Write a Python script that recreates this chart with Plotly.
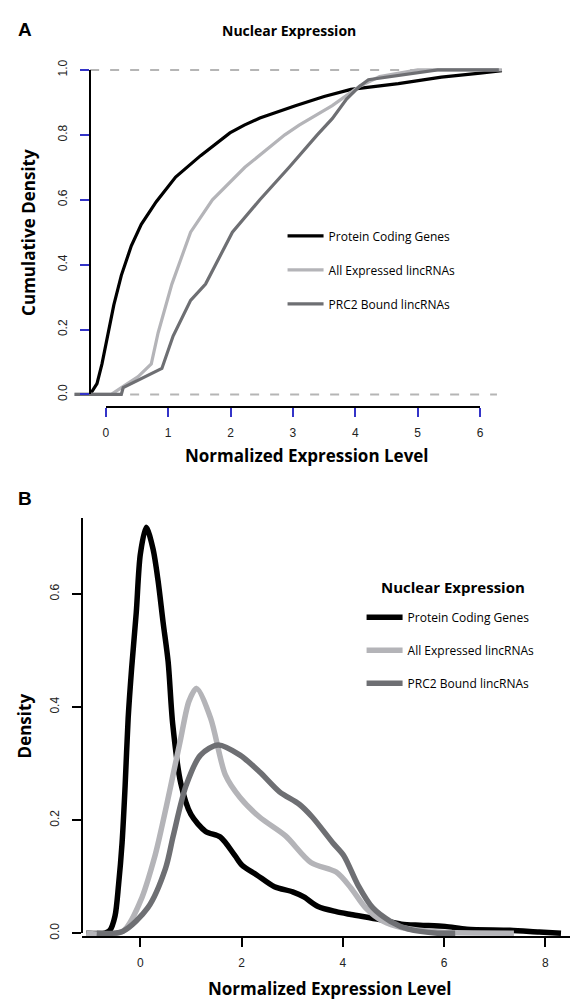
import plotly.graph_objects as go

# ---------------- DATA ----------------
series_names = ["Protein Coding Genes", "All Expressed lincRNAs", "PRC2 Bound lincRNAs"]
series_colors = ["#000000", "#b4b4b8", "#6e6f73"]

# Panel A: empirical cumulative distributions
pc_cdf_x = [-0.25, -0.14, -0.06, 0.0, 0.05, 0.13, 0.25, 0.41, 0.57, 0.81, 1.12, 1.52, 1.99, 2.22, 2.47,
            3.04, 3.5, 3.93, 4.69, 5.38, 6.0, 6.35]
pc_cdf_y = [0.0, 0.033, 0.094, 0.155, 0.2, 0.276, 0.367, 0.458, 0.524, 0.594, 0.67, 0.736, 0.806, 0.83, 0.852,
            0.89, 0.918, 0.94, 0.958, 0.978, 0.99, 0.998]

all_cdf_x = [-0.5, 0.09, 0.30, 0.52, 0.73, 0.84, 1.06, 1.17, 1.36, 1.71, 2.23, 2.87, 3.10, 3.63, 4.07, 4.39, 5.0, 6.35]
all_cdf_y = [0.0, 0.0, 0.027, 0.055, 0.094, 0.19, 0.34, 0.4, 0.5, 0.6, 0.7, 0.8, 0.83, 0.89, 0.95, 0.98, 1.0, 1.0]

prc2_cdf_x = [-0.5, 0.25, 0.28, 0.57, 0.73, 0.90, 1.08, 1.36, 1.60, 1.76, 2.03, 2.47, 2.94, 3.39, 3.63, 3.86,
              4.07, 4.21, 5.32, 6.3]
prc2_cdf_y = [0.0, 0.0, 0.021, 0.048, 0.064, 0.08, 0.18, 0.29, 0.34, 0.4, 0.5, 0.6, 0.7, 0.8, 0.85, 0.91,
              0.95, 0.97, 1.0, 1.0]

ref_levels = [0.0, 1.0]
ref_x_extent = [-0.25, 6.27]

# Panel B: density estimates
pc_den_x = [-1.07, -0.70, -0.6, -0.5, -0.43, -0.36, -0.3, -0.24, -0.17, -0.08, 0.0, 0.117, 0.25, 0.35, 0.45,
            0.55, 0.64, 0.8, 1.0, 1.29, 1.58, 1.87, 2.01, 2.30, 2.65, 3.01, 3.23, 3.51, 3.87, 4.16, 4.73,
            5.16, 5.52, 6.02, 6.45, 7.3, 7.88, 8.31]
pc_den_y = [0.0, 0.0, 0.005, 0.03, 0.085, 0.16, 0.26, 0.38, 0.47, 0.567, 0.67, 0.718, 0.68, 0.624, 0.55,
            0.48, 0.37, 0.265, 0.21, 0.18, 0.17, 0.137, 0.12, 0.103, 0.082, 0.073, 0.064, 0.047, 0.038, 0.033,
            0.024, 0.016, 0.014, 0.012, 0.007, 0.005, 0.002, 0.0]

all_den_x = [-1.07, -0.35, 0.0, 0.29, 0.43, 0.6, 0.8, 0.96, 1.11, 1.39, 1.68, 1.97, 2.36, 2.87, 3.37, 3.87,
             4.16, 4.45, 4.8, 5.16, 5.87, 7.38]
all_den_y = [0.0, 0.003, 0.056, 0.137, 0.19, 0.26, 0.345, 0.41, 0.433, 0.38, 0.28, 0.24, 0.205, 0.172,
             0.125, 0.108, 0.08, 0.045, 0.021, 0.01, 0.002, 0.0]

prc2_den_x = [-0.86, -0.35, 0.15, 0.5, 0.65, 0.9, 1.19, 1.54, 1.97, 2.36, 2.75, 3.14, 3.4, 3.8, 4.02, 4.3,
              4.59, 4.94, 5.3, 5.87, 6.22]
prc2_den_y = [0.0, 0.003, 0.045, 0.115, 0.172, 0.26, 0.315, 0.333, 0.315, 0.285, 0.25, 0.228, 0.205, 0.16,
              0.137, 0.085, 0.045, 0.021, 0.007, 0.0, 0.0]

cdf_ticks = [0, 1, 2, 3, 4, 5, 6]
cdf_yticks = [0.0, 0.2, 0.4, 0.6, 0.8, 1.0]
cdf_yticklabels = ["0.0", "0.2", "0.4", "0.6", "0.8", "1.0"]
den_ticks = [0, 2, 4, 6, 8]
den_yticks = [0.0, 0.2, 0.4, 0.6]
den_yticklabels = ["0.0", "0.2", "0.4", "0.6"]

# ---------------- LAYOUT HELPERS ----------------
W, H = 574, 1007


def fx(px):
    return px / W


def fy(py):
    return 1 - py / H


BLUE = "#3434c8"
TICKFONT = dict(family="Liberation Sans, Arial", size=12, color="#222222")
LBL = "Open Sans, Noto Sans, sans-serif"

fig = go.Figure()

# Panel A geometry: x: 0->104px, 6->483px ; y: 0->391px, 1->61px
ax_x0, ax_sx = 104, (483 - 104) / 6.0
ay_y0, ay_sy = 391, 330.0
# Panel B geometry: x: 0->139px, 8->549px ; y: 0->939px, per unit 575px
bx_x0, bx_sx = 139, (549 - 139) / 8.0
by_y0, by_sy = 939, 575.0

# reference dashed lines (panel A)
for lvl in ref_levels:
    fig.add_trace(go.Scatter(x=ref_x_extent, y=[lvl, lvl], mode="lines", xaxis="x", yaxis="y",
                             line=dict(color="#b5b5b5", width=2, dash="9px,11px"),
                             showlegend=False, hoverinfo="skip"))

cdf_data = [(pc_cdf_x, pc_cdf_y), (all_cdf_x, all_cdf_y), (prc2_cdf_x, prc2_cdf_y)]
for i, (xs, ys) in enumerate(cdf_data):
    fig.add_trace(go.Scatter(x=xs, y=ys, mode="lines", name=series_names[i], xaxis="x", yaxis="y",
                             line=dict(color=series_colors[i], width=3.2), legend="legend",
                             legendgroup="a%d" % i))

den_data = [(pc_den_x, pc_den_y), (all_den_x, all_den_y), (prc2_den_x, prc2_den_y)]
for i, (xs, ys) in enumerate(den_data):
    fig.add_trace(go.Scatter(x=xs, y=ys, mode="lines", name=series_names[i], xaxis="x2", yaxis="y2",
                             line=dict(color=series_colors[i], width=5.5, shape="spline", smoothing=0.8),
                             legend="legend2", legendgroup="b%d" % i))

# carriers for the decorative axes
fig.add_trace(go.Scatter(x=[None], y=[None], xaxis="x3", yaxis="y3", showlegend=False, hoverinfo="skip"))
fig.add_trace(go.Scatter(x=[None], y=[None], xaxis="x2", yaxis="y4", showlegend=False, hoverinfo="skip"))

# panel A data axes (hidden)
pa_l, pa_r, pa_t, pa_b = 66, 512, 50, 402
fig.update_layout(
    xaxis=dict(domain=[fx(pa_l), fx(pa_r)], range=[(pa_l - ax_x0) / ax_sx, (pa_r - ax_x0) / ax_sx],
               visible=False, anchor="y"),
    yaxis=dict(domain=[fy(pa_b), fy(pa_t)], range=[(ay_y0 - pa_b) / ay_sy, (ay_y0 - pa_t) / ay_sy],
               visible=False, anchor="x"),
    xaxis3=dict(domain=[fx(104), fx(483)], range=[0, 6], anchor="free", position=fy(404),
                showline=True, linecolor="#000000", linewidth=1.6, ticks="outside", ticklen=9,
                tickwidth=1.6, tickcolor=BLUE, tickvals=cdf_ticks, showgrid=False, zeroline=False,
                tickfont=TICKFONT, ticklabelstandoff=6),
    yaxis3=dict(domain=[fy(391), fy(61)], range=[0, 1], anchor="free", position=fx(88),
                showline=True, linecolor="#000000", linewidth=1.6, ticks="outside", ticklen=9,
                tickwidth=1.6, tickcolor=BLUE, tickvals=cdf_yticks, ticktext=cdf_yticklabels,
                tickangle=-90, showgrid=False, zeroline=False, tickfont=TICKFONT, ticklabelstandoff=8),
)

# panel B axes
pb_l, pb_r, pb_t, pb_b = 80, 574, 505, 946
fig.update_layout(
    xaxis2=dict(domain=[fx(pb_l), fx(pb_r)], range=[(pb_l - bx_x0) / bx_sx, (pb_r - bx_x0) / bx_sx],
                anchor="free", position=fy(943), showline=True, linecolor="#000000", linewidth=1.8,
                ticks="outside", ticklen=9, tickwidth=1.6, tickcolor="#000000", tickvals=den_ticks,
                showgrid=False, zeroline=False, tickfont=TICKFONT, ticklabelstandoff=6),
    yaxis2=dict(domain=[fy(pb_b), fy(pb_t)], range=[(by_y0 - pb_b) / by_sy, (by_y0 - pb_t) / by_sy],
                visible=False, anchor="x2"),
    yaxis4=dict(domain=[fy(939), fy(517)], range=[0, (939 - 517) / by_sy], anchor="free", position=fx(80),
                showline=True, linecolor="#000000", linewidth=1.6, ticks="outside", ticklen=9,
                tickwidth=1.6, tickcolor="#000000", tickvals=den_yticks, ticktext=den_yticklabels,
                tickangle=-90, showgrid=False, zeroline=False, tickfont=TICKFONT, ticklabelstandoff=8),
)

fig.update_layout(
    width=W, height=H, margin=dict(l=0, r=0, t=0, b=0, pad=0),
    paper_bgcolor="white", plot_bgcolor="rgba(0,0,0,0)",
    legend=dict(x=fx(283), y=fy(215), xanchor="left", yanchor="top", bgcolor="rgba(0,0,0,0)",
                font=dict(family=LBL, size=12, color="#000000"), traceorder="grouped",
                tracegroupgap=15, itemwidth=36),
    legend2=dict(x=fx(363), y=fy(603), xanchor="left", yanchor="top", bgcolor="rgba(0,0,0,0)",
                 font=dict(family=LBL, size=12, color="#000000"), traceorder="grouped",
                 tracegroupgap=14, itemwidth=36),
    showlegend=True,
)

annos = [
    dict(text="<b>A</b>", x=fx(22), y=fy(20), font=dict(family="Liberation Sans, Arial", size=19)),
    dict(text="<b>B</b>", x=fx(22), y=fy(497), font=dict(family="Liberation Sans, Arial", size=19)),
    dict(text="<b>Nuclear Expression</b>", x=fx(290), y=fy(21), font=dict(family=LBL, size=14)),
    dict(text="<b>Nuclear Expression</b>", x=fx(456), y=fy(587), font=dict(family=LBL, size=15)),
    dict(text="<b>Normalized Expression Level</b>", x=fx(308), y=fy(453), font=dict(family=LBL, size=17)),
    dict(text="<b>Normalized Expression Level</b>", x=fx(331), y=fy(995), font=dict(family=LBL, size=17)),
    dict(text="<b>Cumulative Density</b>", x=fx(25), y=fy(226), textangle=-90, font=dict(family=LBL, size=17)),
    dict(text="<b>Density</b>", x=fx(22), y=fy(728), textangle=-90, font=dict(family=LBL, size=17)),
]
for a in annos:
    a.update(xref="paper", yref="paper", showarrow=False, xanchor="center", yanchor="middle")
    a["font"]["color"] = "#000000"
fig.update_layout(annotations=annos)

fig.write_html("out.html", config={"displayModeBar": False},
               post_script="document.body.style.margin='0';document.body.style.overflow='hidden';")
